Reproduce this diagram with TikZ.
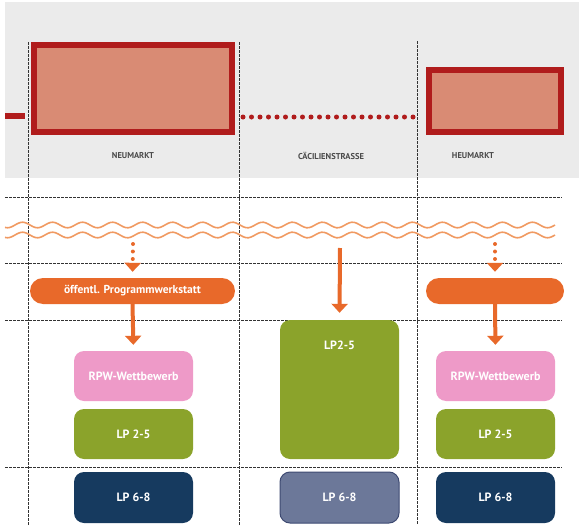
\documentclass[tikz,border=0pt]{standalone}
\usepackage{fontspec}
\setmainfont{PT Sans}
\usetikzlibrary{arrows.meta}

\definecolor{bggrey}{HTML}{EBEBEB}
\definecolor{platzrot}{HTML}{B01C1C}
\definecolor{platzfill}{HTML}{D98B74}
\definecolor{orange}{HTML}{E8692A}
\definecolor{wellen}{HTML}{F09A62}
\definecolor{rosa}{HTML}{EE9AC8}
\definecolor{lpgruen}{HTML}{8BA32B}
\definecolor{lpblau}{HTML}{163A5F}
\definecolor{lpgrau}{HTML}{6C7899}
\definecolor{lpgraurand}{HTML}{3E4A72}
\definecolor{ortgrau}{HTML}{4A4A4A}

\begin{document}
\begin{tikzpicture}[x=1pt,y=-1pt]

    \tikzset{platz/.style={draw=platzrot,line width=6pt,fill=platzfill,inner sep=0pt},
             ortlabel/.style={text=ortgrau,font=\bfseries\fontsize{8.5}{10}\selectfont},
             pill/.style={fill=orange,rounded corners=13pt,minimum height=26pt,inner sep=0pt,
                          text=white,font=\bfseries\fontsize{11.5}{14}\selectfont},
             box/.style={rounded corners=10pt,minimum width=119pt,minimum height=50pt,inner sep=0pt,
                         text=white,font=\bfseries\fontsize{12}{14}\selectfont},
             raster/.style={black!80,line width=0.8pt,dash pattern=on 2.5pt off 1.5pt},
             welle/.style={wellen,line width=1.6pt}}

    \useasboundingbox (0,0) rectangle (579,530);
    \fill[bggrey] (5,2) rectangle (579,178);

    % raster
    \foreach \x/\y in {28/42,239/42,417/41}
        \draw[raster] (\x,\y) -- (\x,525);
    \foreach \y in {197,263,320,467}
        \draw[raster] (5,\y) -- (562,\y);

    \draw[welle] plot[domain=5:555,samples=220] (\x,{225+2.8*sin(12*\x)});
    \draw[welle] plot[domain=5:555,samples=220] (\x,{235+2.8*sin(12*\x)});

    % plaetze
    \node[platz,minimum width=198pt,minimum height=87pt] (neu) at (133,88.5) {};
    \node[platz,minimum width=132pt,minimum height=62pt] (heu) at (495,101) {};

    \coordinate (barL) at (5,116);
    \coordinate (barR) at (25,116);
    \coordinate (dotA) at (243,117);
    \coordinate (dotB) at (413,117);
    \draw[platzrot,line width=6pt] (barL) -- (barR);
    \draw[platzrot,line width=5pt,line cap=round,dash pattern=on 0pt off 8.5pt] (dotA) -- (dotB);

    \node[ortlabel] (lneu) at (133,156) {NEUMARKT};
    \node[ortlabel] (lcae) at (331,156) {CÄCILIENSTRASSE};
    \node[ortlabel] (lheu) at (473,156) {HEUMARKT};

    % verfahren
    \node[pill,minimum width=205pt] (pwl) at (132.5,291) {öffentl. Programmwerkstatt};
    \node[pill,minimum width=138pt] (pwr) at (495,291) {};

    \node[box,fill=rosa] (rpwl) at (133.5,376) {RPW-Wettbewerb};
    \node[box,fill=lpgruen] (lp25l) at (133.5,434) {LP 2-5};
    \node[box,fill=lpblau,minimum height=51pt] (lp68l) at (133.5,497.5) {LP 6-8};

    \node[box,fill=lpgruen,minimum height=139pt,
          label={[text=white,font=\bfseries\fontsize{12}{14}\selectfont,anchor=north,yshift=-18pt]north:LP2-5}]
          (lp25m) at (339.5,389.5) {};
    \node[box,fill=lpgrau,draw=lpgraurand,line width=1pt,minimum height=51pt] (lp68m) at (339.5,497.5) {LP 6-8};

    \node[box,fill=rosa] (rpwr) at (495.5,376) {RPW-Wettbewerb};
    \node[box,fill=lpgruen] (lp25r) at (495.5,434) {LP 2-5};
    \node[box,fill=lpblau,minimum height=51pt] (lp68r) at (495.5,497.5) {LP 6-8};

    \coordinate (wl) at (133,244);
    \coordinate (wm) at (340,248);
    \coordinate (wr) at (495,244);

    \begin{scope}[every path/.style={orange,line width=4pt,-{Triangle[width=16pt,length=9pt]}}]
        \draw[line cap=round,dash pattern=on 0pt off 7.5pt] (wl) -- (pwl.north) [shorten >=6pt];
        \draw[line cap=round,dash pattern=on 0pt off 7.5pt] (wr) -- (pwr.north) [shorten >=6pt];
        \draw[shorten >=6pt] (pwl.south) -- (rpwl.north);
        \draw[shorten >=6pt] (pwr.south) -- (rpwr.north);
        \draw[shorten >=7pt] (wm) -- (lp25m.north);
    \end{scope}

\end{tikzpicture}
\end{document}
